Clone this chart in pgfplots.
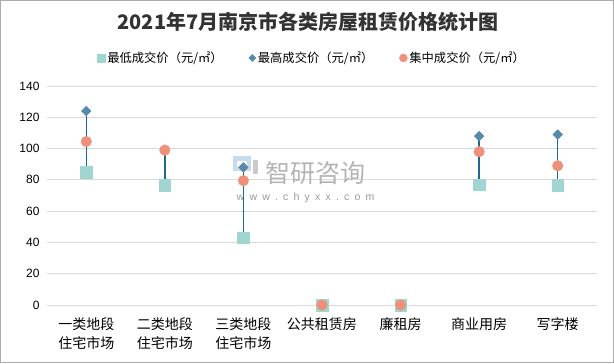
\documentclass[border=0pt]{standalone}
\usepackage{pgfplots}
\pgfplotsset{compat=1.18}
\usepackage{pgfplotstable}
\usepackage{fontspec}
\setmainfont{Liberation Sans}
\newfontfamily\cjk{Noto Sans CJK SC}
\definecolor{sq}{HTML}{9FD6D2}
\definecolor{dm}{HTML}{5689AA}
\definecolor{ci}{HTML}{EF907A}
\definecolor{ln}{HTML}{1F6A8A}
\definecolor{grd}{HTML}{D9D9D9}
\definecolor{frm}{HTML}{ABABAB}
\definecolor{ttl}{HTML}{333333}
\definecolor{wm}{HTML}{B4B4B4}
\definecolor{logo}{HTML}{C5DCEF}

\pgfplotstableread{
x min max mid
0 85 124 104.5
1 76.5 99 99
2 43 88 79.5
3 0 0 0
4 0 0 0
5 77 108 98
6 76.5 109 89
}\data

\newcommand{\wsp}{\hspace{5.2pt}}
\begin{document}
\begin{tikzpicture}
\begin{axis}[
  scale only axis, width=550pt, height=219pt,
  xmin=-0.5, xmax=6.5, ymin=0, ymax=140,
  ytick={0,20,...,140},
  xtick={0,...,6},
  xticklabels={{一类地段\\住宅市场},{二类地段\\住宅市场},{三类地段\\住宅市场},公共租赁房,廉租房,商业用房,写字楼},
  axis line style={draw=none},
  ymajorgrids, grid style={grd, line width=0.8pt},
  major tick length=0pt,
  tick style={draw=none},
  yticklabel style={font=\fontsize{12}{14}\selectfont, text=black, xshift=-4pt},
  xticklabel style={font=\cjk\fontsize{14}{19.5}\selectfont, align=center, anchor=north, yshift=-9pt},
  /pgf/number format/assume math mode=true,
  clip=false,
  legend columns=3,
  legend style={draw=none, fill=none, at={(0.482,1.128)}, anchor=center,
    font=\cjk\fontsize{12.3}{14}\selectfont,
    /tikz/every even column/.append style={column sep=24pt}},
  legend image code/.code={\draw[#1] plot coordinates {(0pt,0pt)};},
]
\coordinate (A) at (rel axis cs:0,0);
% watermark (drawn beneath the data)
\fill[logo] (axis cs:1.87,85.5) rectangle (axis cs:2.10,95);
\fill[white] (axis cs:1.92,88) rectangle (axis cs:2.05,92);
\fill[wm!70] (axis cs:2.12,83.5) rectangle (axis cs:2.19,92.5);
\node[text=wm, font=\cjk\fontsize{25}{25}\selectfont, anchor=west] at (axis cs:2.23,84.5) {智研咨询};
\node[text=wm!85!black, font=\fontsize{10.5}{10}\selectfont, anchor=west] at (axis cs:1.87,68.5) {w\wsp w\wsp w\wsp .\wsp c\wsp h\wsp y\wsp x\wsp x\wsp .\wsp c\wsp o\wsp m};
\addplot[ln, line width=1.5pt, forget plot] coordinates {(0,85) (0,124)};
\addplot[ln, line width=1.5pt, forget plot] coordinates {(1,76.5) (1,99)};
\addplot[ln, line width=1.5pt, forget plot] coordinates {(2,43) (2,88)};
\addplot[ln, line width=1.5pt, forget plot] coordinates {(5,77) (5,108)};
\addplot[ln, line width=1.5pt, forget plot] coordinates {(6,76.5) (6,109)};
\addplot[only marks, mark=square*, mark size=5.8pt, color=sq, forget plot] table[x=x,y=min]{\data};
\addplot[only marks, mark=square*, mark size=3.4pt, mark options={rotate=45}, color=dm, forget plot] table[x=x,y=max]{\data};
\addplot[only marks, mark=*, mark size=5.3pt, color=ci, forget plot] table[x=x,y=mid]{\data};
\addlegendimage{only marks, mark=square*, mark size=4pt, color=sq}
\addlegendentry{最低成交价（元/㎡）}
\addlegendimage{only marks, mark=square*, mark size=2.5pt, mark options={rotate=45}, color=dm}
\addlegendentry{最高成交价（元/㎡）}
\addlegendimage{only marks, mark=*, mark size=4pt, color=ci}
\addlegendentry{集中成交价（元/㎡）}
\end{axis}
\pgfresetboundingbox
\useasboundingbox ([shift={(-47pt,-59pt)}]A) rectangle ([shift={(567pt,305pt)}]A);
\draw[frm, line width=1pt] ([shift={(-46pt,-58pt)}]A) rectangle ([shift={(566pt,304pt)}]A);
\node[font=\cjk\bfseries\fontsize{20}{24}\selectfont, text=ttl] at ([shift={(261pt,283pt)}]A) {2021年7月南京市各类房屋租赁价格统计图};
\end{tikzpicture}
\end{document}
